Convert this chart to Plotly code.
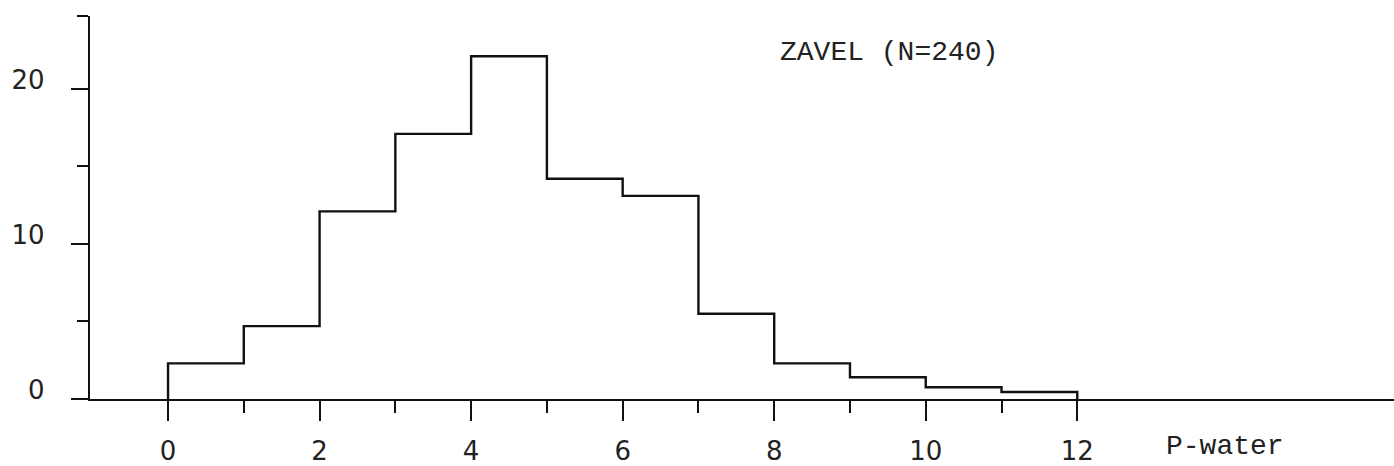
import plotly.graph_objects as go

# Histogram of P-water, ZAVEL (N=240)
bin_edges = [0, 1, 2, 3, 4, 5, 6, 7, 8, 9, 10, 11, 12]
percent = [2.3, 4.7, 12.1, 17.1, 22.1, 14.2, 13.1, 5.5, 2.3, 1.4, 0.76, 0.45]
x_major = [0, 2, 4, 6, 8, 10, 12]
x_minor = [1, 3, 5, 7, 9, 11]
y_major = [0, 10, 20]
y_minor = [5, 15, 24.7]

# step outline points
xs = [bin_edges[0]] + bin_edges[:-1] + [bin_edges[-1]]
ys = [0] + percent + [0]

X_RANGE = [-1.03, 16.18]
Y_RANGE = [0, 24.7]

fig = go.Figure()
fig.add_trace(go.Scatter(x=xs, y=ys, mode="lines", line=dict(shape="hv", color="#111", width=2.4),
                         hoverinfo="skip", showlegend=False))

tickfont = dict(family="DejaVu Sans", size=26, color="#222")

fig.update_layout(
    width=1394, height=466,
    margin=dict(l=90, r=0, t=16, b=67),
    paper_bgcolor="white", plot_bgcolor="white",
    showlegend=False,
    xaxis=dict(range=X_RANGE, showgrid=False, zeroline=False,
               showline=True, linecolor="#111", linewidth=2.4,
               tickmode="array", tickvals=x_major, ticktext=[str(v) for v in x_major],
               ticks="outside", ticklen=20, tickwidth=2, tickcolor="#111",
               ticklabelstandoff=8,
               tickfont=tickfont,
               minor=dict(tickmode="array", tickvals=x_minor, ticks="outside", ticklen=12,
                          tickwidth=2, tickcolor="#111")),
    yaxis=dict(range=Y_RANGE, showgrid=False, zeroline=False,
               showline=True, linecolor="#111", linewidth=2.4,
               tickmode="array", tickvals=y_major, ticktext=[str(v) for v in y_major],
               ticks="outside", ticklen=17, tickwidth=2.4, tickcolor="#111",
               ticklabelstandoff=21, ticklabelshift=-9,
               tickfont=tickfont,
               minor=dict(tickmode="array", tickvals=y_minor, ticks="outside", ticklen=11,
                          tickwidth=2, tickcolor="#111")),
    annotations=[
        dict(text="ZAVEL (N=240)", x=(889 - 90) / 1304, y=1 - (52 - 16) / 383,
             xref="paper", yref="paper", showarrow=False, xanchor="center", yanchor="middle",
             font=dict(family="Liberation Mono", size=28, color="#222")),
        dict(text="P-water", x=(1225 - 90) / 1304, y=1 - (446 - 16) / 383,
             xref="paper", yref="paper", showarrow=False, xanchor="center", yanchor="middle",
             font=dict(family="Liberation Mono", size=28, color="#222")),
    ],
)

fig.write_html("out.html")
